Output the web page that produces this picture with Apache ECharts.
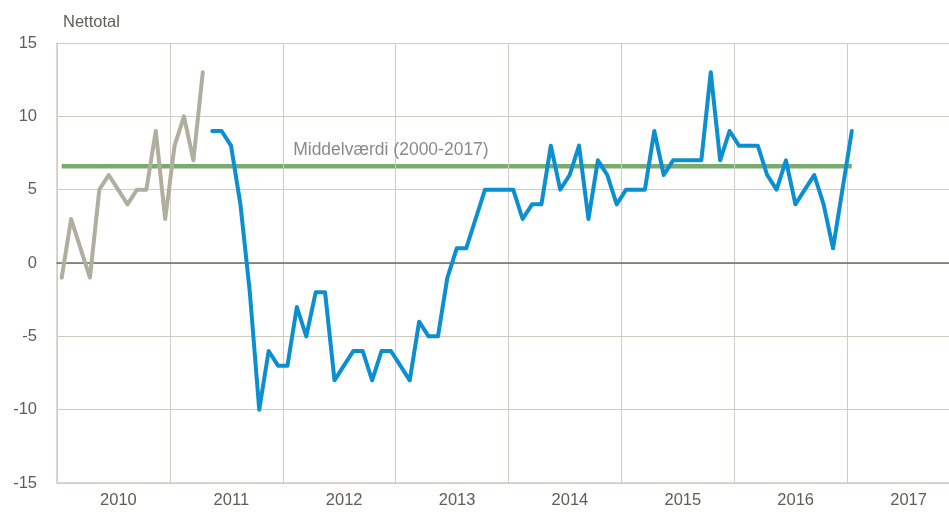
<!DOCTYPE html>
<html>
<head>
<meta charset="utf-8">
<script src="https://cdn.jsdelivr.net/npm/echarts@6/dist/echarts.min.js"></script>
<style>
  html, body { margin: 0; padding: 0; background: #fff; overflow: hidden; }
  /* plot runs a little past the right edge of the window, as in the original */
  #container { width: 960px; height: 516px; }
</style>
</head>
<body>
<div id="container"></div>
<script>
// months counted from Jan 2010 (index 0)
const years = ["2010", "2011", "2012", "2013", "2014", "2015", "2016", "2017"];
const yTicks = { min: -15, max: 15, step: 5 };

// grey series: Jan 2010 - Mar 2011
const grayStart = 0;
const grayValues = [-1, 3, 1, -1, 5, 6, 5, 4, 5, 5, 9, 3, 8, 10, 7, 13];

// blue series: Apr 2011 - Jan 2017
const blueStart = 16;
const blueValues = [
  9, 9, 8, 4, -2, -10, -6, -7, -7, -3,
  -5, -2, -2, -8, -7, -6, -6, -8, -6, -6,
  -7, -8, -4, -5, -5, -1, 1, 1, 3, 5,
  5, 5, 5, 3, 4, 4, 8, 5, 6, 8,
  3, 7, 6, 4, 5, 5, 5, 9, 6, 7,
  7, 7, 7, 13, 7, 9, 8, 8, 8, 6,
  5, 7, 4, 5, 6, 4, 1, 5, 9
];

// mean 2000-2017
const meanValue = 6.6;
const meanStart = 0;
const meanEnd = 84;
const meanLabel = "Middelværdi (2000-2017)";
const meanLabelMonth = 35;

const FONT = "'Liberation Sans', Arial, sans-serif";
const textColor = "#5e5e55";
const gridColor = "#cfcdc1";

const toPairs = (start, values) => values.map((v, i) => [start + i + 0.5, v]);

const meanData = [];
for (let m = meanStart; m <= meanEnd; m++) meanData.push([m + 0.5, meanValue]);

let dom = document.getElementById("container");
let myChart = echarts.init(dom, null, { renderer: "canvas" });

let option = {
  animation: false,
  grid: { left: 57, right: 0, top: 43, bottom: 33, containLabel: false },
  xAxis: [
    {
      type: "value",
      min: 0,
      max: years.length * 12,
      interval: 12,
      axisLine: { show: true, onZero: true, lineStyle: { color: "#6e6c5e", width: 1.5 } },
      axisTick: { show: false },
      axisLabel: { show: false },
      splitLine: { show: true, lineStyle: { color: gridColor, width: 1 } },
      z: 3,
    },
    {
      type: "category",
      data: years,
      boundaryGap: true,
      position: "bottom",
      axisLine: { show: true, onZero: false, lineStyle: { color: gridColor, width: 1.5 } },
      axisTick: { show: false },
      splitLine: { show: false },
      axisLabel: {
        color: textColor,
        fontSize: 16.5,
        fontFamily: FONT,
        margin: 9,
        padding: [0, 0, 0, 10],
      },
    },
  ],
  yAxis: {
    type: "value",
    min: yTicks.min,
    max: yTicks.max,
    interval: yTicks.step,
    name: "Nettotal",
    nameLocation: "end",
    nameGap: 12,
    nameTextStyle: {
      color: textColor,
      fontSize: 16.5,
      fontFamily: FONT,
      align: "left",
      padding: [0, 0, 0, 6],
    },
    axisLine: { show: true, lineStyle: { color: gridColor, width: 1.5 } },
    axisTick: { show: false },
    axisLabel: { color: textColor, fontSize: 16.5, fontFamily: FONT, margin: 20 },
    splitLine: { show: true, lineStyle: { color: gridColor, width: 1 } },
  },
  series: [
    {
      name: "mean",
      type: "line",
      xAxisIndex: 0,
      data: meanData,
      symbol: "none",
      lineStyle: { color: "#7aab6e", width: 4.5 },
      markPoint: {
        symbol: "circle",
        symbolSize: 1,
        itemStyle: { color: "rgba(0,0,0,0)" },
        label: {
          show: true,
          position: "top",
          distance: 7,
          formatter: meanLabel,
          color: "#8a8a86",
          fontSize: 17.5,
          fontFamily: FONT,
        },
        data: [{ coord: [meanLabelMonth + 0.5, meanValue] }],
      },
      z: 2,
    },
    {
      name: "grey",
      type: "line",
      xAxisIndex: 0,
      data: toPairs(grayStart, grayValues),
      symbol: "none",
      lineStyle: { color: "#b0ae9f", width: 4, join: "round", cap: "round" },
      z: 4,
    },
    {
      name: "blue",
      type: "line",
      xAxisIndex: 0,
      data: toPairs(blueStart, blueValues),
      symbol: "none",
      lineStyle: { color: "#0b8fd1", width: 4, join: "round", cap: "round" },
      z: 4,
    },
  ],
};

if (option && typeof option === "object") {
  myChart.setOption(option);
}

window.addEventListener("resize", myChart.resize);
</script>
</body>
</html>
